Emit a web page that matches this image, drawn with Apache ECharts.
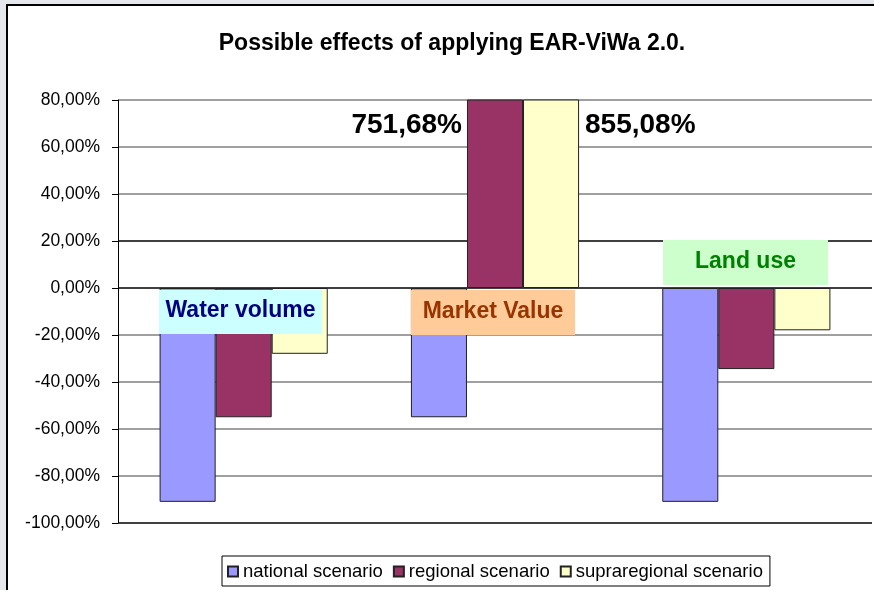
<!DOCTYPE html>
<html>
<head>
<meta charset="utf-8">
<script src="https://cdn.jsdelivr.net/npm/echarts@6/dist/echarts.min.js"></script>
<style>
  body { margin: 0; }
  #chartBox { width: 874px; height: 590px; }
</style>
</head>
<body>
<div id="chartBox"></div>
<script>
// data
var categories = ['Water volume', 'Market Value', 'Land use'];
var seriesNames = ['national scenario', 'regional scenario', 'supraregional scenario'];
var national = [-91, -55, -91];
var regional = [-55, 751.68, -34.5];
var supraregional = [-28, 855.08, -18];
var yTicks = [-100, -80, -60, -40, -20, 0, 20, 40, 60, 80];

var fmt = function (v) {
    return v.toFixed(2).replace('.', ',') + '%';
};

var chart = echarts.init(document.getElementById('chartBox'));

// colored boxes naming each group
var boxes = [
    {x: 159, y: 290, w: 163, h: 44, fill: '#CCFFFF', color: '#000080', text: categories[0]},
    {x: 411, y: 290, w: 164, h: 45, fill: '#FFCC99', color: '#993300', text: categories[1]},
    {x: 663, y: 240, w: 165, h: 45, fill: '#CCFFCC', color: '#008000', text: categories[2]}
];

var graphics = [
    {type: 'rect', z: -10, shape: {x: 7, y: 5, width: 900, height: 620},
     style: {fill: '#fff', stroke: '#000', lineWidth: 2}}
];
boxes.forEach(function (b) {
    graphics.push({type: 'rect', z: 100, shape: {x: b.x, y: b.y, width: b.w, height: b.h},
        style: {fill: b.fill}});
    graphics.push({type: 'text', z: 101, x: b.x + b.w / 2, y: b.y + b.h / 2 - 1,
        style: {text: b.text, fill: b.color, font: 'bold 23px "Liberation Sans"',
            align: 'center', verticalAlign: 'middle'}});
});
// the clipped values written next to the bars
graphics.push({type: 'text', z: 101, x: 462, y: 125,
    style: {text: fmt(regional[1]), fill: '#000', font: 'bold 28px "Liberation Sans"',
        align: 'right', verticalAlign: 'middle'}});
graphics.push({type: 'text', z: 101, x: 585, y: 125,
    style: {text: fmt(supraregional[1]), fill: '#000', font: 'bold 28px "Liberation Sans"',
        align: 'left', verticalAlign: 'middle'}});

var barStyle = function (color) {
    return {color: color, borderColor: '#222', borderWidth: 1};
};

var option = {
    backgroundColor: '#e4e7ec',
    animation: false,
    textStyle: {fontFamily: 'Liberation Sans'},
    title: {
        text: 'Possible effects of applying EAR-ViWa 2.0.',
        left: 447,
        textAlign: 'center',
        top: 27,
        textStyle: {fontSize: 23, fontWeight: 'bold', color: '#000', fontFamily: 'Liberation Sans'}
    },
    legend: {
        data: seriesNames,
        icon: 'rect',
        left: 222,
        top: 556,
        padding: [6, 7, 5, 5],
        itemWidth: 10,
        itemHeight: 10,
        itemGap: 10,
        borderColor: '#000',
        borderWidth: 1,
        backgroundColor: '#fff',
        textStyle: {fontSize: 18.5, color: '#000', padding: [0, 0, 0, 0]}
    },
    grid: {left: 118, right: 2, top: 100, bottom: 67},
    xAxis: {
        type: 'category',
        data: categories,
        axisLine: {show: false},
        axisTick: {show: false},
        axisLabel: {show: false}
    },
    yAxis: {
        type: 'value',
        min: yTicks[0],
        max: yTicks[yTicks.length - 1],
        interval: 20,
        axisLine: {show: true, lineStyle: {color: '#000', width: 1}},
        axisTick: {show: true, length: 6, lineStyle: {color: '#000'}},
        axisLabel: {
            formatter: fmt,
            fontSize: 17.5,
            color: '#000',
            margin: 18
        },
        splitLine: {
            show: true,
            lineStyle: {
                width: 1.5,
                color: ['#000', '#808080', '#808080', '#808080', '#808080',
                        '#000', '#000', '#808080', '#808080', '#808080']
            }
        }
    },
    series: [
        {name: seriesNames[0], type: 'bar', data: national, barWidth: '22.3%', barGap: 0,
         clip: true, itemStyle: barStyle('#9999FF')},
        {name: seriesNames[1], type: 'bar', data: regional, barWidth: '22.3%', barGap: 0,
         clip: true, itemStyle: barStyle('#993366')},
        {name: seriesNames[2], type: 'bar', data: supraregional, barWidth: '22.3%', barGap: 0,
         clip: true, itemStyle: barStyle('#FFFFCC')}
    ],
    graphic: graphics
};

chart.setOption(option);
</script>
</body>
</html>
